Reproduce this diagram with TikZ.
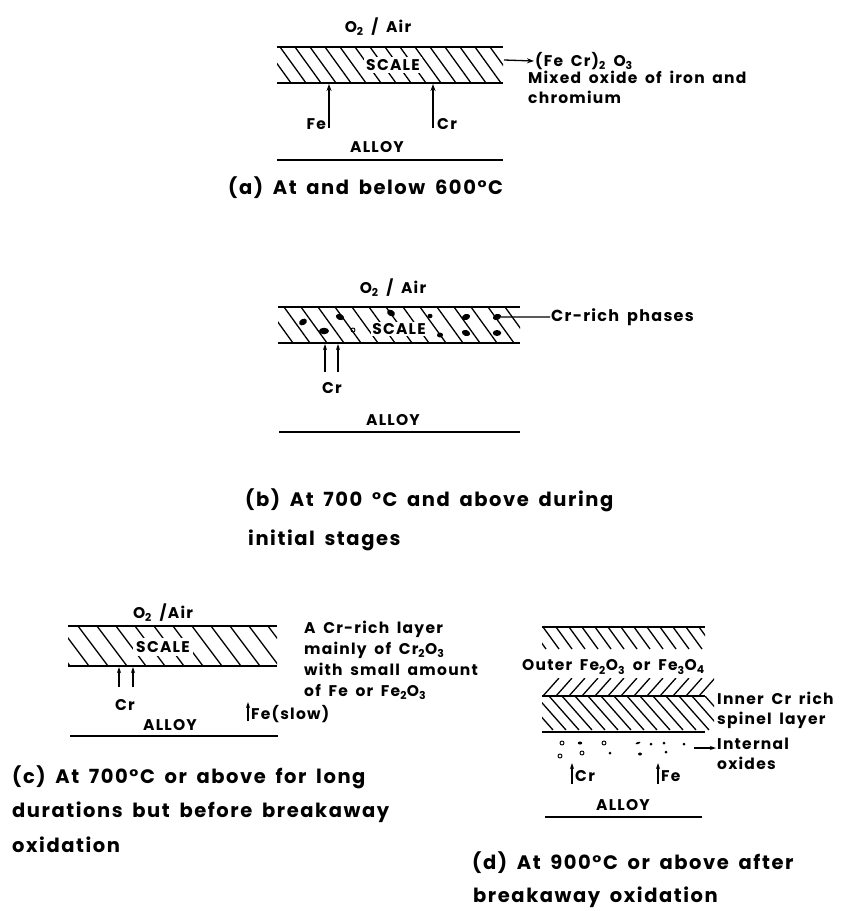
\documentclass[tikz,border=0pt]{standalone}
\usepackage{fontspec}
\setmainfont{Poppins}[LetterSpace=8, WordSpace=1.7]
\usetikzlibrary{arrows.meta,shapes.geometric}
\begin{document}
\begin{tikzpicture}[x=1pt,y=-1pt,
  lbl/.style={font=\fontsize{15.5}{20}\selectfont\bfseries, inner sep=1pt},
  lblw/.style={lbl, anchor=west},
  caption/.style={font=\fontsize{19.5}{24}\selectfont\bfseries, anchor=west, inner sep=0pt},
  ln/.style={line width=1.7pt},
  hatch/.style={line width=1.3pt},
  blob/.style={ellipse, fill=black, inner sep=0pt, minimum width=8.5pt, minimum height=6pt},
  hole/.style={circle, draw=black, line width=0.9pt, inner sep=0pt, minimum size=4pt},
  arr/.style={-{Stealth[length=7pt,width=5pt]}, line width=1.3pt},
  sarr/.style={-{Stealth[length=6pt,width=4pt]}, line width=1.2pt}]
\useasboundingbox (0,0) rectangle (846,911);

% ---------------- (a) ----------------
\node[lbl] (a-air) at (378,27) {O\textsubscript{2} / Air};
\coordinate (a-tl) at (277,47); \coordinate (a-tr) at (503,47);
\coordinate (a-bl) at (277,83); \coordinate (a-br) at (503,83);
\begin{scope}
  \clip (a-tl) rectangle (a-br);
  \foreach \x in {250,265,...,520} \draw[hatch] (\x,47) -- ++(26,36);
\end{scope}
\node[lbl, fill=white, inner sep=2pt] (a-scale) at (393,65) {SCALE};
\draw[ln] (a-tl) -- (a-tr);
\draw[ln] (a-bl) -- (a-br);
\coordinate (a-fe0) at (329,128); \coordinate (a-fe1) at (329,84);
\draw[arr] (a-fe0) -- (a-fe1);
\node[lbl, anchor=east] (a-fe) at (327,124) {Fe};
\coordinate (a-cr0) at (433,128); \coordinate (a-cr1) at (433,84);
\draw[arr] (a-cr0) -- (a-cr1);
\node[lblw] (a-cr) at (436,124) {Cr};
\node[lbl] (a-alloy) at (377,147) {ALLOY};
\coordinate (a-al) at (277,160); \coordinate (a-ar) at (503,160);
\draw[ln] (a-al) -- (a-ar);
\coordinate (a-o0) at (504,60);
\node[lblw] (a-ox) at (534,61) {(Fe Cr)\textsubscript{2} O\textsubscript{3}};
\draw[arr] (a-o0) -- (a-ox.west);
\node[lbl, anchor=north west, align=left] (a-mix) at (527,70) {Mixed oxide of iron and\\chromium};
\node[caption] (a-cap) at (228,188) {(a) At and below 600°C};

% ---------------- (b) ----------------
\node[lbl] (b-air) at (393,288) {O\textsubscript{2} / Air};
\coordinate (b-tl) at (278,307); \coordinate (b-tr) at (520,307);
\coordinate (b-bl) at (278,343); \coordinate (b-br) at (520,343);
\begin{scope}
  \clip (b-tl) rectangle (b-br);
  \foreach \x in {250,267,...,540} \draw[hatch] (\x,307) -- ++(26,36);
\end{scope}
\node[lbl, fill=white, inner sep=1pt] (b-scale) at (399,329) {SCALE};
\draw[ln] (b-tl) -- (b-tr);
\draw[ln] (b-bl) -- (b-br);
\node[blob, rotate=30] (b-d1) at (303,322) {};
\node[blob, minimum width=10pt, minimum height=6.5pt] (b-d2) at (324,331) {};
\node[blob, rotate=-20] (b-d3) at (340,317) {};
\node[hole] (b-d4) at (353,330) {};
\node[blob, rotate=-30] (b-d5) at (391,313) {};
\node[blob, minimum width=5pt, minimum height=4.5pt] (b-d6) at (430,316) {};
\node[blob, minimum width=6pt, minimum height=5pt] (b-d7) at (440,335) {};
\node[blob, rotate=20] (b-d8) at (466,317) {};
\node[blob, rotate=-20] (b-d9) at (466,333) {};
\node[blob, rotate=20] (b-d10) at (497,317) {};
\node[blob] (b-d11) at (497,333) {};
\node[lblw, font=\fontsize{16}{20}\selectfont\bfseries] (b-crp) at (550,317) {Cr-rich phases};
\draw[line width=1.2pt] (b-d10) -- (b-crp.west);
\coordinate (b-a0) at (325,372); \coordinate (b-a1) at (325,344);
\coordinate (b-b0) at (338,372); \coordinate (b-b1) at (338,344);
\draw[sarr] (b-a0) -- (b-a1);
\draw[sarr] (b-b0) -- (b-b1);
\node[lbl] (b-cr) at (332,388) {Cr};
\node[lbl] (b-alloy) at (393,420) {ALLOY};
\coordinate (b-al) at (279,432); \coordinate (b-ar) at (520,432);
\draw[ln] (b-al) -- (b-ar);
\node[caption] (b-cap1) at (245,500) {(b) At 700 °C and above during};
\node[caption] (b-cap2) at (248,540) {initial stages};

% ---------------- (c) ----------------
\node[lbl] (c-air) at (163,613) {O\textsubscript{2} /Air};
\coordinate (c-tl) at (68,626); \coordinate (c-tr) at (277,626);
\coordinate (c-bl) at (68,666); \coordinate (c-br) at (277,666);
\begin{scope}
  \clip (c-tl) rectangle (c-br);
  \foreach \x in {40,59,...,300} \draw[hatch] (\x,626) -- ++(30,40);
\end{scope}
\node[lbl, fill=white, inner sep=3pt] (c-scale) at (163,647) {SCALE};
\draw[ln] (c-tl) -- (c-tr);
\draw[ln] (c-bl) -- (c-br);
\node[lbl, anchor=north west, align=left, font=\fontsize{15.5}{21}\selectfont\bfseries] (c-txt) at (303,620)
  {A Cr-rich layer\\mainly of Cr\textsubscript{2}O\textsubscript{3}\\with small amount\\of Fe or Fe\textsubscript{2}O\textsubscript{3}};
\coordinate (c-a0) at (119,687); \coordinate (c-a1) at (119,667);
\coordinate (c-b0) at (133,687); \coordinate (c-b1) at (133,667);
\draw[sarr] (c-a0) -- (c-a1);
\draw[sarr] (c-b0) -- (c-b1);
\node[lbl] (c-cr) at (125,705) {Cr};
\coordinate (c-f0) at (248,721); \coordinate (c-f1) at (248,702);
\draw[sarr] (c-f0) -- (c-f1);
\node[lblw, inner sep=0pt] (c-fe) at (251,714) {Fe(slow)};
\node[lbl] (c-alloy) at (170,725) {ALLOY};
\coordinate (c-al) at (70,736); \coordinate (c-ar) at (278,736);
\draw[ln] (c-al) -- (c-ar);
\node[caption] (c-cap1) at (12,777) {(c) At 700°C or above for long};
\node[caption] (c-cap2) at (12,812) {durations but before breakaway};
\node[caption] (c-cap3) at (12,845) {oxidation};

% ---------------- (d) ----------------
\coordinate (d-tl) at (542,627); \coordinate (d-tr) at (705,627);
\begin{scope}
  \clip (542,627) rectangle (705,649);
  \foreach \x in {530,543,...,715} \draw[hatch] (\x,627) -- ++(16,22);
\end{scope}
\draw[ln] (d-tl) -- (d-tr);
\node[lblw, inner sep=0pt] (d-outer) at (522,667) {Outer Fe\textsubscript{2}O\textsubscript{3} or Fe\textsubscript{3}O\textsubscript{4}};
\coordinate (d-ml) at (542,696); \coordinate (d-mr) at (705,696);
\begin{scope}
  \clip (542,678) rectangle (714,696);
  \foreach \x in {543,556,...,705} \draw[hatch] (\x,696) -- ++(16,-18);
\end{scope}
\begin{scope}
  \clip (542,696) rectangle (714,732);
  \foreach \x in {510,523,...,705} \draw[hatch] (\x,696) -- ++(30,34);
\end{scope}
\draw[ln] (d-ml) -- (d-mr);
\coordinate (d-bl) at (542,732); \coordinate (d-br) at (705,732);
\draw[ln] (d-bl) -- (d-br);
\node[lbl, anchor=north west, align=left] (d-inner) at (716,691) {Inner Cr rich\\spinel layer};
% internal oxides
\node[hole] (d-o1) at (562,743) {};
\node[blob, minimum width=4.5pt, minimum height=3pt] (d-o2) at (580,743) {};
\node[hole] (d-o3) at (604,743) {};
\node[blob, minimum width=5pt, minimum height=2pt, rotate=20] (d-o4) at (638,743) {};
\node[blob, minimum width=3pt, minimum height=3pt] (d-o5) at (651,744) {};
\node[blob, minimum width=3pt, minimum height=3pt] (d-o6) at (664,743) {};
\node[blob, minimum width=3pt, minimum height=3pt] (d-o7) at (684,744) {};
\node[hole] (d-o8) at (560,756) {};
\node[hole] (d-o9) at (582,753) {};
\node[blob, minimum width=3pt, minimum height=3pt] (d-o10) at (610,753) {};
\node[blob, minimum width=4pt, minimum height=3pt] (d-o11) at (640,754) {};
\node[blob, minimum width=3pt, minimum height=3pt] (d-o12) at (666,752) {};
\node[lbl, anchor=north west, align=left] (d-int) at (716,737) {Internal\\oxides};
\coordinate (d-i0) at (694,748);
\draw[sarr] (d-i0) -- (d-int.west |- d-i0);
\coordinate (d-c0) at (572,784); \coordinate (d-c1) at (572,763);
\draw[sarr] (d-c0) -- (d-c1);
\node[lblw, inner sep=0pt] (d-cr) at (575,776) {Cr};
\coordinate (d-f0) at (658,784); \coordinate (d-f1) at (658,763);
\draw[sarr] (d-f0) -- (d-f1);
\node[lblw, inner sep=0pt] (d-fe) at (661,776) {Fe};
\node[lbl] (d-alloy) at (623,805) {ALLOY};
\coordinate (d-al) at (545,817); \coordinate (d-ar) at (702,817);
\draw[ln] (d-al) -- (d-ar);
\node[caption] (d-cap1) at (472,863) {(d) At 900°C or above after};
\node[caption] (d-cap2) at (473,897) {breakaway oxidation};
\end{tikzpicture}
\end{document}
